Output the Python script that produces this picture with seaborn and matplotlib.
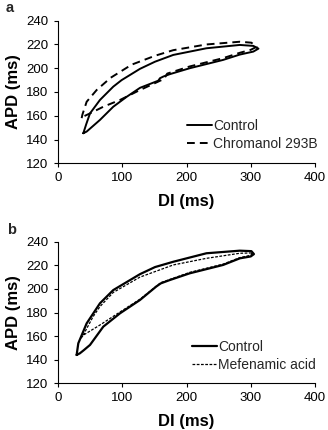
import matplotlib
matplotlib.use("Agg")
import matplotlib.pyplot as plt
import seaborn as sns
import pandas as pd

# ---- Data ----
# Panel a: Control loop (upper branch left->right, then lower branch back)
a_ctrl_di = [39.4, 44, 49.8, 65.3, 86, 99, 127.6, 151, 179.4, 231, 283, 304, 312,
             304, 283, 257, 205, 174, 163.9, 158.7, 156, 127.6, 107, 86, 65.3, 44.6, 39.4]
a_ctrl_apd = [145.3, 153, 162, 173.3, 184.5, 190, 199.5, 205.5, 211.2, 216.8, 219.6, 218.8, 216.5,
              214, 211.5, 207, 200, 195, 193, 191.6, 189.5, 183.5, 176, 167.6, 156.5, 146.7, 145.3]
# Panel a: Chromanol 293B loop
a_chr_di = [36.8, 38, 44.6, 60.2, 82, 114.6, 151, 179.4, 231, 283, 301, 309,
            300, 283, 257, 205, 170, 165, 151, 125, 96.5, 70.5, 49.8, 38]
a_chr_apd = [158, 161, 171.8, 181.7, 192, 203, 210.5, 215.2, 220, 222.3, 221.5, 218,
             215.5, 213, 208.5, 201.5, 195.5, 191, 187.5, 181, 173.3, 167.6, 162, 159]

# Panel b: Control loop
b_ctrl_di = [29, 31.6, 44.6, 65.3, 86, 127.6, 151, 179.4, 231, 283, 301, 305,
             300, 283, 257, 205, 174, 160, 152.7, 127.6, 96.5, 70.5, 49.8, 40, 34, 29]
b_ctrl_apd = [144, 153.9, 170.8, 187.8, 199, 212.5, 218.5, 223, 230.2, 232.4, 232, 229.5,
              227.5, 225.9, 220.3, 213.2, 207.5, 204.7, 201.9, 190.6, 179.3, 168, 152.5, 148, 145.4, 144]
# Panel b: Mefenamic acid loop
b_mef_di = [35, 39.4, 54.5, 65.3, 86, 127.6, 179.4, 231, 283, 303,
            300, 283, 257, 205, 160, 127.6, 91, 65.3, 40, 35]
b_mef_apd = [158, 161, 176.4, 185, 197, 210, 220.3, 225.9, 230.2, 230.5,
             228.5, 226.5, 221, 214, 205.3, 191.3, 178.5, 169.4, 161, 158]

x_ticks = [0, 100, 200, 300, 400]
y_ticks = [120, 140, 160, 180, 200, 220, 240]

sns.set_theme(style="ticks")
plt.rcParams['font.family'] = ['Liberation Sans', 'DejaVu Sans']

fig = plt.figure(figsize=(3.28, 4.30), dpi=100)
W, H = 328, 430
def axes_px(left, top, right, bottom):
    return fig.add_axes([left / W, 1 - bottom / H, (right - left) / W, (bottom - top) / H])

ax1 = axes_px(58, 20.7, 315, 163.3)
ax2 = axes_px(58, 241.7, 315, 383.3)

def draw(ax, di, apd, label, lw, dashes=None):
    df = pd.DataFrame({"DI": di, "APD": apd})
    sns.lineplot(data=df, x="DI", y="APD", sort=False, estimator=None, ax=ax,
                 color="black", lw=lw, label=label)
    l = ax.get_lines()[-1]
    l.set_solid_joinstyle("round")
    l.set_dash_joinstyle("round")
    if dashes is not None:
        l.set_dashes(dashes)
    return l

draw(ax1, a_ctrl_di, a_ctrl_apd, "Control", 1.4)
draw(ax1, a_chr_di, a_chr_apd, "Chromanol 293B", 1.4, dashes=(4, 2.6))
draw(ax2, b_ctrl_di, b_ctrl_apd, "Control", 1.6)
draw(ax2, b_mef_di, b_mef_apd, "Mefenamic acid", 0.9, dashes=(2.2, 1.2))

for ax, leg_x, leg_y in [(ax1, 0.50, 0.198), (ax2, 0.52, 0.193)]:
    ax.set_xlim(0, 400)
    ax.set_ylim(120, 240)
    ax.set_xticks(x_ticks)
    ax.set_yticks(y_ticks)
    ax.tick_params(axis="both", direction="out", length=3, width=0.8, labelsize=9.5,
                   color="black", labelcolor="black")
    ax.tick_params(axis="y", pad=4)
    ax.tick_params(axis="x", pad=3)
    for s in ["top", "right"]:
        ax.spines[s].set_visible(False)
    for s in ["left", "bottom"]:
        ax.spines[s].set_color("black")
        ax.spines[s].set_linewidth(0.8)
    ax.set_facecolor("white")
    ax.set_xlabel("DI (ms)", fontsize=12, fontweight="bold", color="black")
    ax.set_ylabel("APD (ms)", fontsize=12, fontweight="bold", color="black")
    ax.xaxis.set_label_coords(0.5, -0.215)
    ax.yaxis.set_label_coords(-0.145, 0.5)
    ax.legend(loc="center left", bbox_to_anchor=(leg_x, leg_y), frameon=False,
              fontsize=10, handlelength=1.8, handletextpad=0.1, borderpad=0,
              borderaxespad=0, labelspacing=0.3)

fig.text(10 / W, 1 - 8 / H, "a", fontsize=10.5, fontweight="bold", ha="center", va="center")
fig.text(12 / W, 1 - 230 / H, "b", fontsize=10.5, fontweight="bold", ha="center", va="center")

fig.savefig("out.png", dpi=100, facecolor="white")
